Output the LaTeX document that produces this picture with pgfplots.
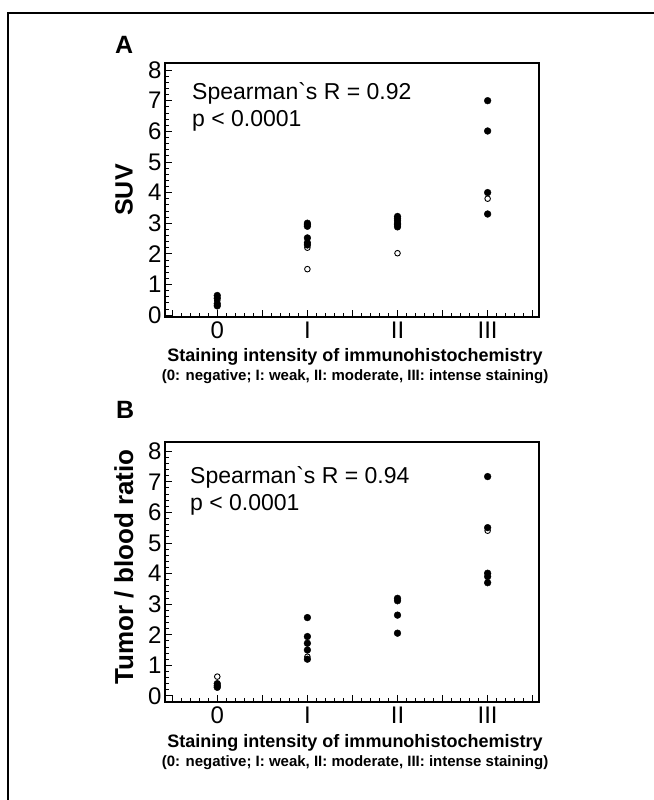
\documentclass[border=0pt]{standalone}
\usepackage{pgfplots}
\pgfplotsset{compat=1.18}
\usepackage{fontspec}
\setmainfont{Liberation Sans}

\pgfplotsset{
  myax/.style={
    scale only axis, width=374pt, anchor=south west,
    xmin=-0.58, xmax=3.57,
    xtick={-0.5,0,0.5,1,1.5,2,2.5,3,3.5},
    xticklabels={{},0,{},I,{},II,{},III,{}},
    minor x tick num=4,
    ytick={0,1,2,3,4,5,6,7,8},
    minor y tick num=4,
    tick align=inside, tick pos=left,
    major tick length=7pt, minor tick length=3.5pt,
    axis line style={line width=1.4pt},
    every tick/.style={black, line width=0.8pt},
    /pgf/number format/assume math mode=true,
    ticklabel style={font=\fontsize{24}{26}\selectfont},
    xticklabel style={yshift=-1pt},
    clip=false,
  },
  filled/.style={only marks, mark=*, mark size=3.4pt, mark options={fill=black, draw=black}},
  hollow/.style={only marks, mark=o, mark size=2.8pt, mark options={fill=white, draw=black, line width=0.9pt}},
}

\begin{document}
\begin{tikzpicture}[x=1pt,y=1pt]
\useasboundingbox (0,0) rectangle (653,800);
\draw[line width=2pt] (8,0) -- (8,787) -- (660,787);

% Panel A
\begin{axis}[myax, at={(165pt,483pt)}, height=254pt, ymin=-0.062, ymax=8.23]
\addplot[filled] coordinates {
 (0,0.64) (0,0.55) (0,0.37) (0,0.30)
 (1,3.00) (1,2.95) (1,2.90) (1,2.52) (1,2.36) (1,2.29)
 (2,3.22) (2,3.15) (2,3.08) (2,3.00) (2,2.95) (2,2.88)
 (3,7.00) (3,6.01) (3,4.00) (3,3.30)
};
\addplot[hollow] coordinates {
 (0,0.47) (1,2.20) (1,1.50) (2,2.02) (3,3.80)
};
\end{axis}

% Panel B
\begin{axis}[myax, at={(165pt,98pt)}, height=260pt, ymin=-0.2, ymax=8.3]
\addplot[filled] coordinates {
 (0,0.40) (0,0.33) (0,0.28)
 (1,2.56) (1,1.94) (1,1.72) (1,1.50) (1,1.20)
 (2,3.19) (2,3.11) (2,2.64) (2,2.05)
 (3,7.17) (3,5.50) (3,4.01) (3,3.90) (3,3.70)
};
\addplot[hollow] coordinates {
 (0,0.63) (1,1.28) (3,5.40)
};
\end{axis}

% Panel letters
\node[anchor=base west, inner sep=0pt, font=\bfseries\fontsize{25}{30}\selectfont] at (115,746) {A};
\node[anchor=base west, inner sep=0pt, font=\bfseries\fontsize{25}{30}\selectfont] at (116,381) {B};

% y labels
\node[rotate=90, inner sep=0pt, font=\bfseries\fontsize{25}{28}\selectfont] at (124,610) {SUV};
\node[rotate=90, inner sep=0pt, font=\bfseries\fontsize{26}{28}\selectfont] at (124,233) {Tumor / blood ratio};

% statistics
\node[anchor=base west, inner sep=0pt, font=\fontsize{23}{27}\selectfont] at (192,700) {Spearman\textasciigrave s R = 0.92};
\node[anchor=base west, inner sep=0pt, font=\fontsize{23}{27}\selectfont] at (192,673) {p < 0.0001};
\node[anchor=base west, inner sep=0pt, font=\fontsize{23}{27}\selectfont] at (190,316.7) {Spearman\textasciigrave s R = 0.94};
\node[anchor=base west, inner sep=0pt, font=\fontsize{23}{27}\selectfont] at (190,289.3) {p < 0.0001};

% x labels
\node[anchor=base, inner sep=0pt, font=\bfseries\fontsize{18}{22}\selectfont] at (355,438) {Staining intensity of immunohistochemistry};
\node[anchor=base, inner sep=0pt, font=\bfseries\fontsize{15}{18}\selectfont] at (355,419.3) {(0: negative; I: weak, II: moderate, III: intense staining)};
\node[anchor=base, inner sep=0pt, font=\bfseries\fontsize{18}{22}\selectfont] at (355,52) {Staining intensity of immunohistochemistry};
\node[anchor=base, inner sep=0pt, font=\bfseries\fontsize{15}{18}\selectfont] at (355,33.3) {(0: negative; I: weak, II: moderate, III: intense staining)};
\end{tikzpicture}
\end{document}
